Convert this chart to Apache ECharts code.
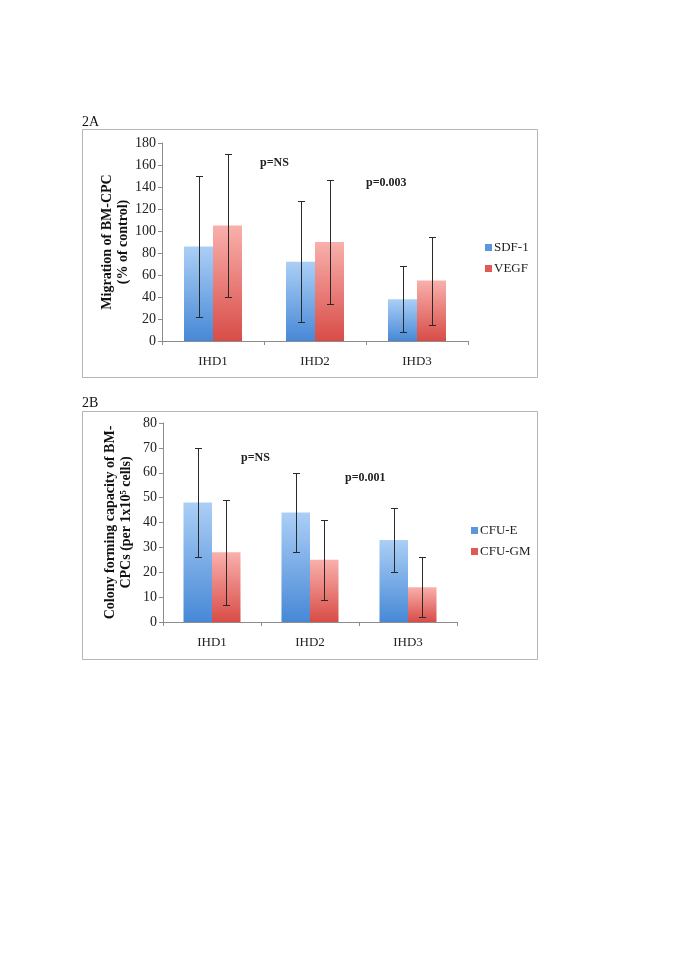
<!DOCTYPE html>
<html><head><meta charset="utf-8">
<script src="https://cdn.jsdelivr.net/npm/echarts@6/dist/echarts.min.js"></script>
<style>html,body{margin:0;padding:0;background:#fff}#c{width:685px;height:969px}</style>
</head><body><div id="c"></div>
<script>
const categories = ['IHD1', 'IHD2', 'IHD3'];
// Panel 2A
const sdf1 = [86, 72, 38];
const sdf1Low = [22, 17, 8];
const sdf1High = [150, 127, 68];
const vegf = [105, 90, 55];
const vegfLow = [40, 34, 15];
const vegfHigh = [170, 146, 95];
// Panel 2B
const cfuE = [48, 44, 33];
const cfuELow = [26, 28, 20];
const cfuEHigh = [70, 60, 46];
const cfuGM = [28, 25, 14];
const cfuGMLow = [7, 9, 2];
const cfuGMHigh = [49, 41, 26];

const FONT = '"Liberation Serif", "Times New Roman", serif';
const blueGrad = new echarts.graphic.LinearGradient(0, 0, 0, 1, [
  {offset: 0, color: '#abcff6'}, {offset: 1, color: '#4788d6'}]);
const redGrad = new echarts.graphic.LinearGradient(0, 0, 0, 1, [
  {offset: 0, color: '#f9b0ac'}, {offset: 1, color: '#d84c47'}]);

function errSeries(name, xi, yi, low, high, offsetFrac) {
  return {
    type: 'custom', name: name, xAxisIndex: xi, yAxisIndex: yi, z: 10,
    data: low.map((l, i) => [i, l, high[i]]),
    renderItem: function (params, api) {
      const i = api.value(0);
      const bw = api.size([1, 0])[0];
      const dx = bw * offsetFrac;
      const p1 = api.coord([i, api.value(1)]);
      const p2 = api.coord([i, api.value(2)]);
      const x = Math.round(p1[0] + dx) + 0.5;
      const y1 = Math.round(p1[1]) + 0.5, y2 = Math.round(p2[1]) + 0.5;
      const cap = 3.5;
      const st = {stroke: '#2a2a2a', lineWidth: 1};
      return {type: 'group', children: [
        {type: 'line', shape: {x1: x, y1: y1, x2: x, y2: y2}, style: st},
        {type: 'line', shape: {x1: x - cap, y1: y1, x2: x + cap, y2: y1}, style: st},
        {type: 'line', shape: {x1: x - cap, y1: y2, x2: x + cap, y2: y2}, style: st}
      ]};
    }
  };
}

function xAx(gi) {
  return {
    type: 'category', gridIndex: gi, data: categories,
    axisLine: {lineStyle: {color: '#8c8c8c'}},
    axisTick: {show: true, length: 4, lineStyle: {color: '#8c8c8c'}},
    axisLabel: {fontFamily: FONT, fontSize: 13, color: '#222', margin: 14}
  };
}
function yAx(gi, max, interval, name, gap) {
  return {
    type: 'value', gridIndex: gi, min: 0, max: max, interval: interval,
    name: name, nameLocation: 'middle', nameRotate: 90, nameGap: gap,
    nameTextStyle: {fontFamily: FONT, fontSize: 14, fontWeight: 'bold', color: '#111', lineHeight: 16, align: 'center'},
    axisLine: {show: true, lineStyle: {color: '#8c8c8c'}},
    axisTick: {show: true, length: 4, lineStyle: {color: '#8c8c8c'}},
    splitLine: {show: false},
    axisLabel: {fontFamily: FONT, fontSize: 14, color: '#222', margin: 6}
  };
}

const chart = echarts.init(document.getElementById('c'), null, {renderer: 'canvas'});
chart.setOption({
  animation: false,
  backgroundColor: '#fff',
  grid: [
    {left: 162, top: 143, width: 306, height: 198},
    {left: 163, top: 423, width: 294, height: 199}
  ],
  xAxis: [xAx(0), xAx(1)],
  yAxis: [
    yAx(0, 180, 20, 'Migration of BM-CPC\n(% of control)', 29),
    yAx(1, 80, 10, 'Colony forming capacity of BM-\nCPCs (per 1x10\u2075 cells)', 29)
  ],
  legend: [
    {orient: 'vertical', left: 480, top: 236, itemWidth: 7, itemHeight: 7, itemGap: 8,
     icon: 'rect', selectedMode: false,
     textStyle: {fontFamily: FONT, fontSize: 13, color: '#222', padding: [0, 0, 0, -3]},
     data: [{name: 'SDF-1', itemStyle: {color: '#5b97dc'}}, {name: 'VEGF', itemStyle: {color: '#dd5a55'}}]},
    {orient: 'vertical', left: 466, top: 519, itemWidth: 7, itemHeight: 7, itemGap: 8,
     icon: 'rect', selectedMode: false,
     textStyle: {fontFamily: FONT, fontSize: 13, color: '#222', padding: [0, 0, 0, -3]},
     data: [{name: 'CFU-E', itemStyle: {color: '#5b97dc'}}, {name: 'CFU-GM', itemStyle: {color: '#dd5a55'}}]}
  ],
  graphic: [
    {type: 'rect', shape: {x: 82.5, y: 129.5, width: 455, height: 248}, style: {fill: 'none', stroke: '#b5b5b5', lineWidth: 1}, silent: true},
    {type: 'rect', shape: {x: 82.5, y: 411.5, width: 455, height: 248}, style: {fill: 'none', stroke: '#b5b5b5', lineWidth: 1}, silent: true},
    {type: 'text', left: 82, top: 115, style: {text: '2A', font: '14px ' + FONT, fill: '#111'}},
    {type: 'text', left: 82, top: 396, style: {text: '2B', font: '14px ' + FONT, fill: '#111'}},
    {type: 'text', left: 260, top: 157, style: {text: 'p=NS', font: 'bold 12px ' + FONT, fill: '#222'}},
    {type: 'text', left: 366, top: 177, style: {text: 'p=0.003', font: 'bold 12px ' + FONT, fill: '#222'}},
    {type: 'text', left: 241, top: 452, style: {text: 'p=NS', font: 'bold 12px ' + FONT, fill: '#222'}},
    {type: 'text', left: 345, top: 472, style: {text: 'p=0.001', font: 'bold 12px ' + FONT, fill: '#222'}}
  ],
  series: [
    {type: 'bar', name: 'SDF-1', xAxisIndex: 0, yAxisIndex: 0, data: sdf1, barWidth: 29, barGap: '0%', itemStyle: {color: blueGrad}},
    {type: 'bar', name: 'VEGF', xAxisIndex: 0, yAxisIndex: 0, data: vegf, barWidth: 29, barGap: '0%', itemStyle: {color: redGrad}},
    errSeries('errA1', 0, 0, sdf1Low, sdf1High, -14.5 / 102),
    errSeries('errA2', 0, 0, vegfLow, vegfHigh, 14.5 / 102),
    {type: 'bar', name: 'CFU-E', xAxisIndex: 1, yAxisIndex: 1, data: cfuE, barWidth: 28.5, barGap: '0%', itemStyle: {color: blueGrad}},
    {type: 'bar', name: 'CFU-GM', xAxisIndex: 1, yAxisIndex: 1, data: cfuGM, barWidth: 28.5, barGap: '0%', itemStyle: {color: redGrad}},
    errSeries('errB1', 1, 1, cfuELow, cfuEHigh, -14.25 / 98),
    errSeries('errB2', 1, 1, cfuGMLow, cfuGMHigh, 14.25 / 98)
  ]
});
</script></body></html>
